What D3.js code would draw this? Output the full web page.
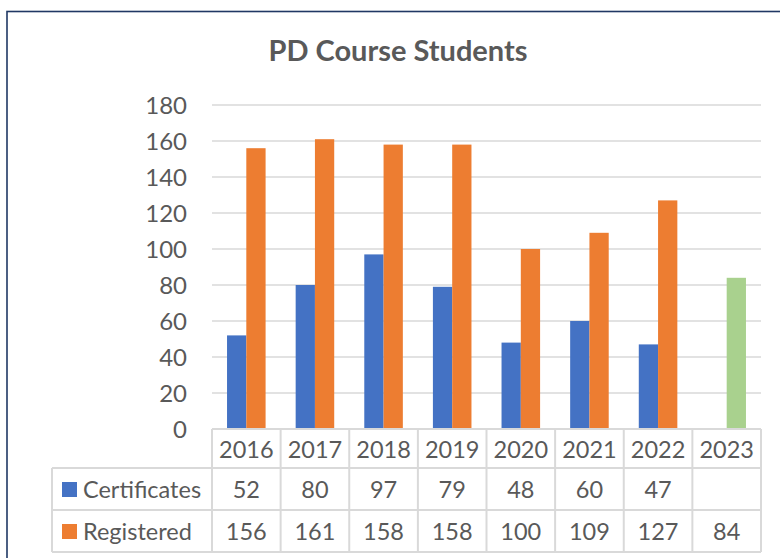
<!DOCTYPE html>
<html>
<head>
<meta charset="utf-8">
<script src="https://cdn.jsdelivr.net/npm/d3@7"></script>
<style>
  body { margin: 0; background: #fff; }
  svg { display: block; font-family: Lato, "Noto Sans", sans-serif; }
</style>
</head>
<body>
<svg id="chart"></svg>
<script>
// chart data
const years = ["2016", "2017", "2018", "2019", "2020", "2021", "2022", "2023"];
const certificates = [52, 80, 97, 79, 48, 60, 47, null];
const registered = [156, 161, 158, 158, 100, 109, 127, 84];
const seriesNames = ["Certificates", "Registered"];
const seriesColors = ["#4472C4", "#ED7D31"];
const highlightYears = ["2023"];
const highlightColor = "#A9D18E";
const yTicks = [0, 20, 40, 60, 80, 100, 120, 140, 160, 180];

const width = 780;
const height = 558;
const plot = { left: 212, right: 761, top: 105, bottom: 429 };
const rowH = [39, 42, 42];
const legendLeft = 52;
const gridColor = "#d9d9d9";
const textColor = "#595959";
const tableFont = 23.5;

const svg = d3.select("svg#chart").attr("width", width).attr("height", height);

// chart border (navy, runs off the right/bottom of the picture)
svg.append("rect")
    .attr("x", 7).attr("y", 11.5)
    .attr("width", width + 10).attr("height", height + 10)
    .attr("fill", "none")
    .attr("stroke", "#203864")
    .attr("stroke-width", 1.6);

svg.append("text")
    .attr("x", 398).attr("y", 61)
    .attr("text-anchor", "middle")
    .attr("font-size", 29)
    .attr("font-weight", "bold")
    .attr("fill", textColor)
    .text("PD Course Students");

const x = d3.scaleBand().domain(years).range([plot.left, plot.right]).padding(0);
const x1 = d3.scaleBand().domain(seriesNames).range([0, x.bandwidth()]).paddingInner(0).paddingOuter(0.78);
const y = d3.scaleLinear().domain([0, 180]).range([plot.bottom, plot.top]);

// gridlines
svg.append("g").selectAll("line")
    .data(yTicks)
    .join("line")
    .attr("x1", plot.left).attr("x2", plot.right)
    .attr("y1", d => y(d)).attr("y2", d => y(d))
    .attr("stroke", gridColor)
    .attr("stroke-width", 1.5);

// y axis labels
const yAxis = d3.axisLeft(y).tickValues(yTicks).tickSize(0).tickPadding(0);
const yg = svg.append("g")
    .attr("transform", "translate(187,0)")
    .call(yAxis);
yg.select(".domain").remove();
yg.selectAll("text")
    .attr("font-size", 24)
    .attr("font-family", "Lato, 'Noto Sans', sans-serif")
    .attr("fill", textColor)
    .attr("dy", "0.36em");

// bars
const seriesData = [certificates, registered];
seriesData.forEach((vals, si) => {
    svg.append("g").selectAll("rect")
        .data(years.map((yr, i) => ({ yr, v: vals[i] })).filter(d => d.v != null))
        .join("rect")
        .attr("x", d => x(d.yr) + x1(seriesNames[si]))
        .attr("width", x1.bandwidth())
        .attr("y", d => y(d.v))
        .attr("height", d => y(0) - y(d.v))
        .attr("fill", d => (si === 1 && highlightYears.includes(d.yr)) ? highlightColor : seriesColors[si]);
});

// data table
const t = svg.append("g");
const rowTop = [plot.bottom, plot.bottom + rowH[0], plot.bottom + rowH[0] + rowH[1]];
const tableBottom = rowTop[2] + rowH[2];

// horizontal lines
t.append("line").attr("x1", plot.left).attr("x2", plot.right)
    .attr("y1", rowTop[0]).attr("y2", rowTop[0]);
[rowTop[1], rowTop[2], tableBottom].forEach(yy => {
    t.append("line").attr("x1", legendLeft).attr("x2", plot.right)
        .attr("y1", yy).attr("y2", yy);
});
// vertical lines
t.append("line").attr("x1", legendLeft).attr("x2", legendLeft)
    .attr("y1", rowTop[1]).attr("y2", tableBottom);
years.concat(["end"]).forEach(yr => {
    const xx = yr === "end" ? plot.right : x(yr);
    t.append("line").attr("x1", xx).attr("x2", xx)
        .attr("y1", rowTop[0]).attr("y2", tableBottom);
});
t.selectAll("line").attr("stroke", gridColor).attr("stroke-width", 2);

// header row: years
t.selectAll("text.yr")
    .data(years)
    .join("text")
    .attr("class", "yr")
    .attr("x", d => x(d) + x.bandwidth() / 2)
    .attr("y", rowTop[0] + 29)
    .attr("text-anchor", "middle")
    .attr("font-size", tableFont)
    .attr("fill", textColor)
    .text(d => d);

// value rows
seriesData.forEach((vals, si) => {
    const base = rowTop[si + 1] + 29.5;
    t.append("rect")
        .attr("x", 62).attr("y", rowTop[si + 1] + 14)
        .attr("width", 15).attr("height", 15)
        .attr("fill", seriesColors[si]);
    t.append("text")
        .attr("x", 83).attr("y", base)
        .attr("font-size", tableFont)
        .attr("fill", textColor)
        .text(seriesNames[si]);
    t.append("g").selectAll("text")
        .data(years.map((yr, i) => ({ yr, v: vals[i] })).filter(d => d.v != null))
        .join("text")
        .attr("x", d => x(d.yr) + x.bandwidth() / 2)
        .attr("y", base)
        .attr("text-anchor", "middle")
        .attr("font-size", tableFont)
        .attr("fill", textColor)
        .text(d => d.v);
});
</script>
</body>
</html>
